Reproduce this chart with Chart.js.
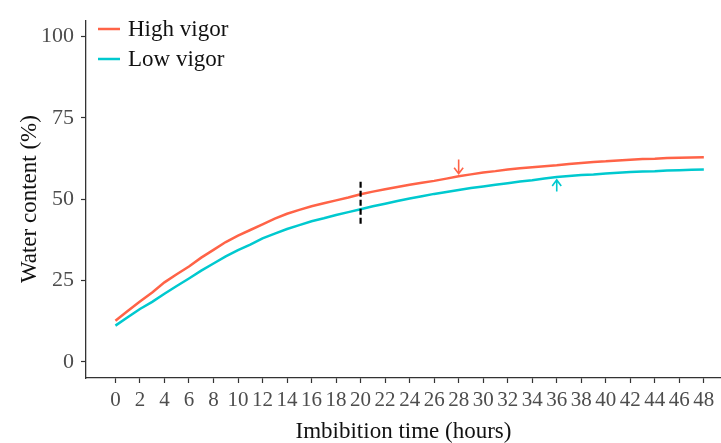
<!DOCTYPE html>
<html>
<head>
<meta charset="utf-8">
<script src="https://cdn.jsdelivr.net/npm/chart.js@4"></script>
<style>
  body { margin: 0; background: #fff; overflow: hidden; }
  #wrap { width: 721px; height: 443px; }
</style>
</head>
<body>
<div id="wrap"><canvas id="waterChart"></canvas></div>
<script>
var hours = [0, 1, 2, 3, 4, 5, 6, 7, 8, 9, 10, 11, 12, 13, 14, 15, 16, 17, 18, 19, 20,
  21, 22, 23, 24, 25, 26, 27, 28, 29, 30, 31, 32, 33, 34, 35, 36, 37, 38, 39, 40,
  41, 42, 43, 44, 45, 46, 47, 48];
var highVigor = [12.6, 15.6, 18.5, 21.3, 24.4, 26.9, 29.3, 32.0, 34.4, 36.8, 38.8, 40.5, 42.2, 44.0, 45.5, 46.7, 47.8, 48.7, 49.6, 50.5, 51.5,
  52.3, 53.0, 53.7, 54.4, 55.0, 55.6, 56.3, 57.0, 57.6, 58.2, 58.6, 59.1, 59.5, 59.8, 60.1, 60.4, 60.8, 61.1, 61.4, 61.6,
  61.9, 62.1, 62.3, 62.4, 62.6, 62.7, 62.8, 62.9];
var lowVigor = [11.1, 13.7, 16.2, 18.4, 20.9, 23.3, 25.6, 28.0, 30.2, 32.4, 34.3, 36.0, 37.9, 39.4, 40.8, 42.0, 43.2, 44.1, 45.1, 46.0, 46.9,
  47.8, 48.6, 49.4, 50.2, 50.9, 51.6, 52.2, 52.8, 53.4, 53.9, 54.4, 54.9, 55.4, 55.8, 56.3, 56.8, 57.1, 57.4, 57.6, 57.9,
  58.1, 58.3, 58.5, 58.6, 58.8, 58.9, 59.0, 59.1];
var seriesNames = ['High vigor', 'Low vigor'];
var seriesColors = ['#ff6347', '#00c9cf'];
var xTicks = [0, 2, 4, 6, 8, 10, 12, 14, 16, 18, 20, 22, 24, 26, 28, 30, 32, 34, 36, 38, 40, 42, 44, 46, 48];
var yTicks = [0, 25, 50, 75, 100];

// dashed marker at 20 h and the two arrows
var markerHour = 20;
var markerRange = [41.8, 55.3];
var arrowHours = [28, 36];
var arrowTails = [62.2, 52.3];
var arrowTips = [57.8, 55.9];

var serif = "'Liberation Serif', 'DejaVu Serif', serif";

function points(ys) {
  return hours.map(function (h, i) { return { x: h, y: ys[i] }; });
}

var extras = {
  id: 'extras',
  afterDatasetsDraw: function (chart) {
    var c = chart.ctx, xs = chart.scales.x, ys = chart.scales.y;
    c.save();
    // vertical dashed line
    var mx = xs.getPixelForValue(markerHour);
    c.strokeStyle = '#000';
    c.lineWidth = 2.2;
    c.setLineDash([6, 3]);
    c.beginPath();
    c.moveTo(mx, ys.getPixelForValue(markerRange[1]));
    c.lineTo(mx, ys.getPixelForValue(markerRange[0]));
    c.stroke();
    c.setLineDash([]);
    // arrows
    arrowHours.forEach(function (h, i) {
      var ax = xs.getPixelForValue(h);
      var t0 = ys.getPixelForValue(arrowTails[i]);
      var t1 = ys.getPixelForValue(arrowTips[i]);
      var dir = t1 > t0 ? -1 : 1;
      c.strokeStyle = seriesColors[i];
      c.lineWidth = 1.6;
      c.beginPath();
      c.moveTo(ax, t0);
      c.lineTo(ax, t1);
      c.moveTo(ax - 4.5, t1 + dir * 6);
      c.lineTo(ax, t1);
      c.lineTo(ax + 4.5, t1 + dir * 6);
      c.stroke();
    });
    // legend
    seriesNames.forEach(function (name, i) {
      var ly = 29 + i * 30;
      c.strokeStyle = seriesColors[i];
      c.lineWidth = 2.5;
      c.beginPath();
      c.moveTo(98, ly);
      c.lineTo(120, ly);
      c.stroke();
      c.fillStyle = '#111';
      c.font = '23px ' + serif;
      c.textBaseline = 'middle';
      c.textAlign = 'left';
      c.fillText(name, 128, ly + 1);
    });
    c.restore();
  }
};

var ctx = document.getElementById('waterChart').getContext('2d');
var myChart = new Chart(ctx, {
  type: 'line',
  data: {
    datasets: [{
      label: seriesNames[0],
      data: points(highVigor),
      borderColor: seriesColors[0],
      borderWidth: 2.5,
      pointRadius: 0,
      tension: 0
    }, {
      label: seriesNames[1],
      data: points(lowVigor),
      borderColor: seriesColors[1],
      borderWidth: 2.5,
      pointRadius: 0,
      tension: 0
    }]
  },
  options: {
    responsive: true,
    maintainAspectRatio: false,
    animation: false,
    layout: { padding: { top: 12, right: 0, left: 0, bottom: 0 } },
    plugins: { legend: { display: false }, tooltip: { enabled: false } },
    scales: {
      x: {
        type: 'linear',
        min: -2.4,
        max: 49.4,
        afterBuildTicks: function (s) { s.ticks = xTicks.map(function (v) { return { value: v }; }); },
        afterFit: function (s) { s.height = 65; },
        ticks: {
          autoSkip: false,
          maxRotation: 0,
          padding: 5,
          color: '#4d4d4d',
          font: { family: serif, size: 21 }
        },
        grid: { drawOnChartArea: false, tickLength: 5, tickColor: '#333', tickWidth: 1.2 },
        border: { display: true, color: '#333', width: 1.3 },
        title: {
          display: true,
          text: 'Imbibition time (hours)',
          color: '#111',
          font: { family: serif, size: 23, lineHeight: 1 },
          padding: { top: 0, bottom: 0 }
        }
      },
      y: {
        min: -5,
        max: 105,
        afterBuildTicks: function (s) { s.ticks = yTicks.map(function (v) { return { value: v }; }); },
        afterFit: function (s) { s.width = 86; },
        ticks: {
          padding: 7,
          color: '#4d4d4d',
          font: { family: serif, size: 22 }
        },
        grid: { drawOnChartArea: false, tickLength: 5, tickColor: '#333', tickWidth: 1.2 },
        border: { display: true, color: '#333', width: 1.3 },
        title: {
          display: true,
          text: 'Water content (%)',
          color: '#111',
          font: { family: serif, size: 23, lineHeight: 1 },
          padding: { top: 18, bottom: 0 }
        }
      }
    }
  },
  plugins: [extras]
});
</script>
</body>
</html>
